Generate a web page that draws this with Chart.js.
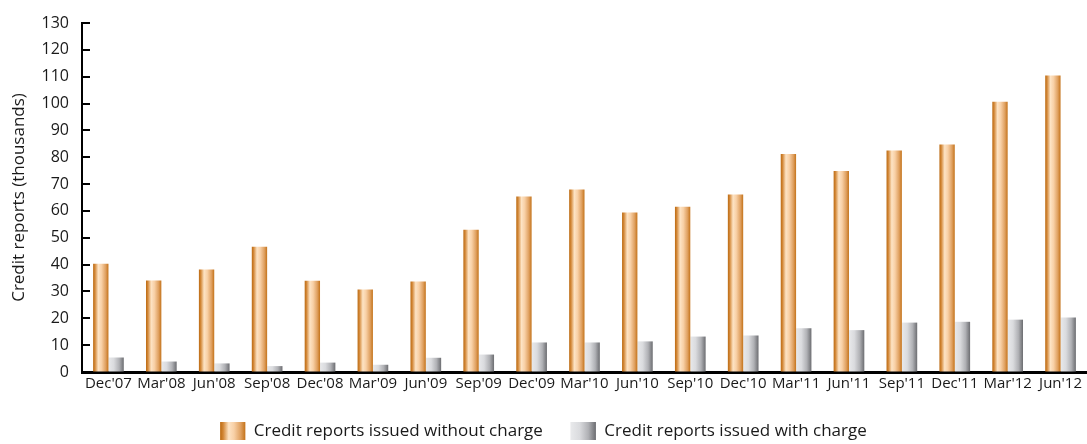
<!DOCTYPE html>
<html>
<head>
<meta charset="utf-8">
<script src="https://cdn.jsdelivr.net/npm/chart.js@4/dist/chart.umd.min.js"></script>
<style>
  html, body { margin: 0; padding: 0; background: #fff; }
  #wrap { width: 1087px; height: 444px; position: relative; }
</style>
</head>
<body>
<div id="wrap"><canvas id="c"></canvas></div>
<script>
// Quarterly credit reports issued, in thousands
const quarters = ["Dec'07", "Mar'08", "Jun'08", "Sep'08", "Dec'08", "Mar'09", "Jun'09", "Sep'09",
  "Dec'09", "Mar'10", "Jun'10", "Sep'10", "Dec'10", "Mar'11", "Jun'11", "Sep'11", "Dec'11", "Mar'12", "Jun'12"];
const withoutCharge = [40.3, 34.1, 38.2, 46.7, 34.0, 30.7, 33.7, 53.0, 65.4, 68.0, 59.4, 61.6, 66.1, 81.2, 74.9, 82.5, 84.7, 100.7, 110.4];
const withCharge = [5.4, 3.9, 3.2, 2.2, 3.5, 2.7, 5.3, 6.5, 11.0, 11.0, 11.4, 13.2, 13.6, 16.3, 15.6, 18.4, 18.7, 19.5, 20.3];
const yTicks = [0, 10, 20, 30, 40, 50, 60, 70, 80, 90, 100, 110, 120, 130];

const FONT = "'Open Sans', 'DejaVu Sans', sans-serif";
const INK = '#1a1a1a';

// Horizontal "cylinder" shading for each series
const shades = [
  [[0, '#bb6a12'], [0.12, '#d38838'], [0.34, '#fde3c4'], [0.55, '#f8d0a6'], [0.82, '#dfa060'], [1, '#c4731a']],
  [[0, '#e8e9eb'], [0.35, '#dadbde'], [0.7, '#b0b1b5'], [1, '#6c6d71']]
];
function makeGradient(ctx, left, width, stops) {
  const g = ctx.createLinearGradient(left, 0, left + width, 0);
  stops.forEach(s => g.addColorStop(s[0], s[1]));
  return g;
}

const shadingPlugin = {
  id: 'shading',
  beforeDatasetsDraw(chart) {
    const ctx = chart.ctx;
    chart.data.datasets.forEach((ds, i) => {
      const meta = chart.getDatasetMeta(i);
      meta.data.forEach(el => {
        const p = el.getProps(['x', 'width'], true);
        const left = p.x - p.width / 2;
        el.options = Object.assign({}, el.options, { backgroundColor: makeGradient(ctx, left, p.width, shades[i]) });
      });
    });
  },
  afterDraw(chart) {
    const ctx = chart.ctx;
    // inward tick marks on the value axis
    const ys = chart.scales.y;
    const a = chart.chartArea;
    ctx.save();
    ctx.strokeStyle = '#000';
    ctx.lineWidth = 2;
    yTicks.forEach(v => {
      const y = Math.round(ys.getPixelForValue(v));
      ctx.beginPath();
      ctx.moveTo(a.left, y);
      ctx.lineTo(a.left + 8, y);
      ctx.stroke();
    });
    // shaded legend swatches
    const lg = chart.legend;
    if (lg && lg.legendHitBoxes) {
      const bw = lg.options.labels.boxWidth, bh = lg.options.labels.boxHeight;
      lg.legendHitBoxes.forEach((hb, i) => {
        ctx.fillStyle = makeGradient(ctx, hb.left, bw, shades[i]);
        ctx.fillRect(hb.left, hb.top, bw, bh);
      });
    }
    ctx.restore();
  }
};

new Chart(document.getElementById('c'), {
  type: 'bar',
  data: {
    labels: quarters,
    datasets: [
      { label: 'Credit reports issued without charge', data: withoutCharge, backgroundColor: '#e0a060', borderWidth: 0 },
      { label: 'Credit reports issued with charge', data: withCharge, backgroundColor: '#b0b1b5', borderWidth: 0 }
    ]
  },
  options: {
    responsive: true,
    maintainAspectRatio: false,
    animation: false,
    layout: { padding: { top: 23, right: 0, bottom: -6, left: 0 } },
    datasets: { bar: { categoryPercentage: 0.58, barPercentage: 1.0 } },
    plugins: {
      tooltip: { enabled: false },
      legend: {
        position: 'bottom',
        labels: {
          boxWidth: 25, boxHeight: 18, padding: 28,
          color: INK, font: { family: FONT, size: 17 }
        }
      }
    },
    scales: {
      x: {
        grid: { display: false, drawTicks: false },
        border: { display: true, color: '#000', width: 3 },
        ticks: { color: INK, font: { family: FONT, size: 15 }, maxRotation: 0, autoSkip: false, padding: 3 },
        afterFit(s) { s.height = 22; }
      },
      y: {
        min: 0, max: 130,
        afterBuildTicks(s) { s.ticks = yTicks.map(v => ({ value: v })); },
        grid: { drawOnChartArea: false, drawTicks: false },
        border: { display: true, color: '#000', width: 2 },
        ticks: { color: INK, font: { family: FONT, size: 16 }, padding: 13 },
        title: { display: true, text: 'Credit reports (thousands)', color: INK, font: { family: FONT, size: 17 }, padding: { top: 9, bottom: 0 } },
        afterFit(s) { s.width = 82; }
      }
    }
  },
  plugins: [shadingPlugin]
});
</script>
</body>
</html>
